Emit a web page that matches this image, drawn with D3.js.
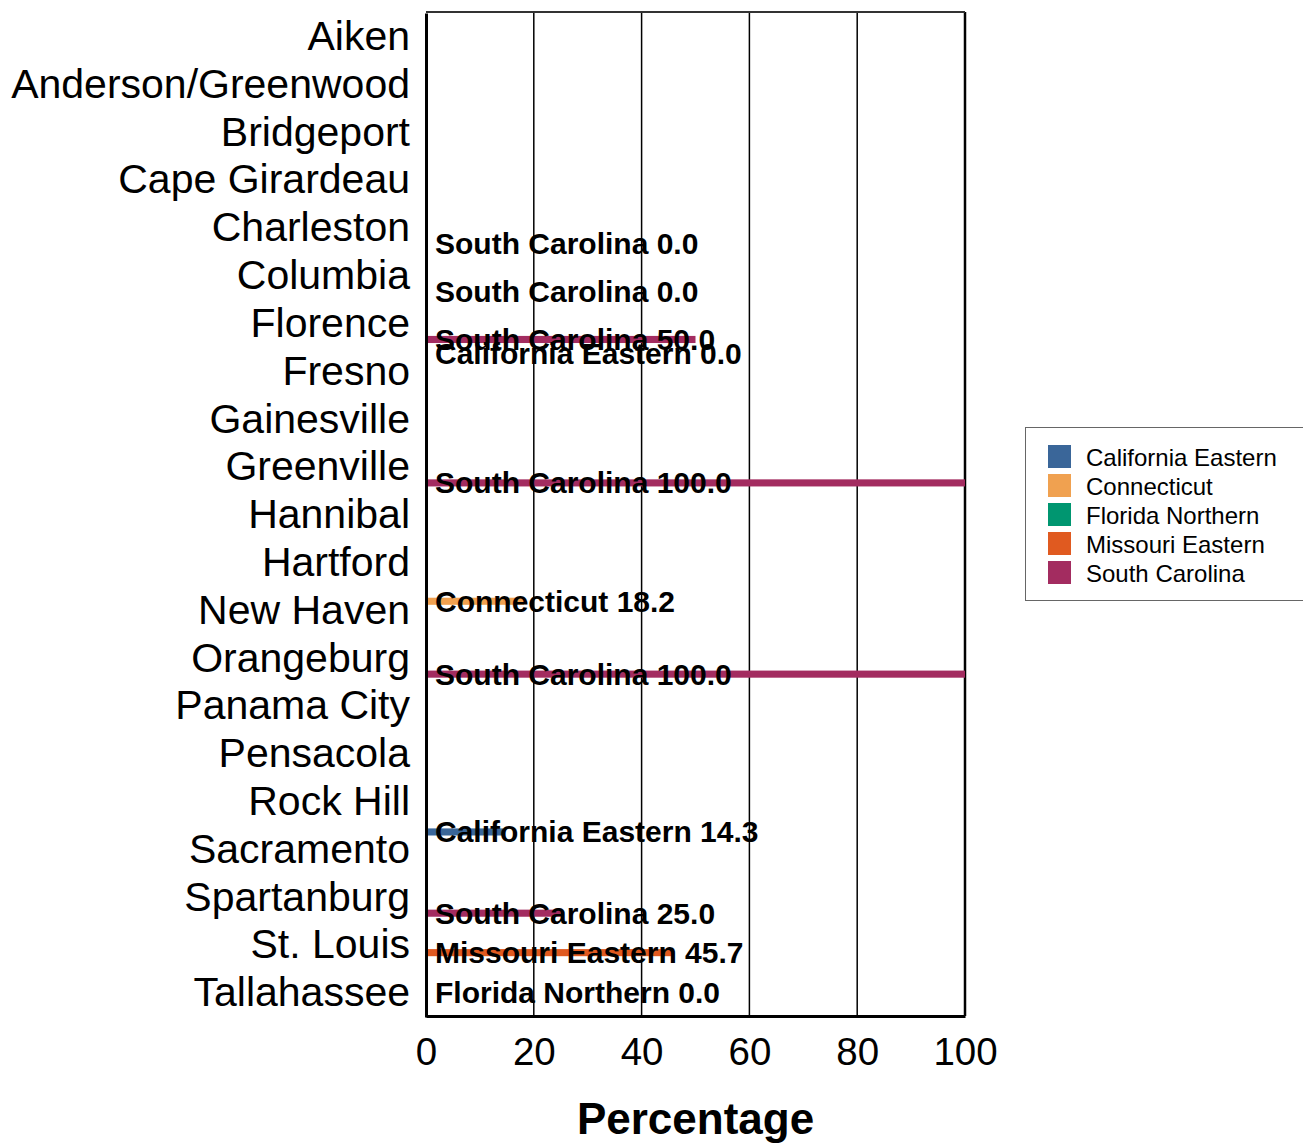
<!DOCTYPE html>
<html><head><meta charset="utf-8">
<script src="https://cdn.jsdelivr.net/npm/d3@7"></script>
<style>body{margin:0;background:#fff}svg{display:block}text{font-family:"Liberation Sans",Arial,sans-serif}</style>
</head><body>
<svg id="c" width="1303" height="1144"></svg>
<script>
const cities = ["Aiken","Anderson/Greenwood","Bridgeport","Cape Girardeau","Charleston","Columbia","Florence","Fresno","Gainesville","Greenville","Hannibal","Hartford","New Haven","Orangeburg","Panama City","Pensacola","Rock Hill","Sacramento","Spartanburg","St. Louis","Tallahassee"];
const seriesNames = ["California Eastern","Connecticut","Florida Northern","Missouri Eastern","South Carolina"];
const seriesColors = ["#3a6699","#f0a150","#009670","#e05a20","#a32c60"];
const recordCity = ["Charleston","Columbia","Florence","Fresno","Greenville","New Haven","Orangeburg","Sacramento","Spartanburg","St. Louis","Tallahassee"];
const recordSeries = ["South Carolina","South Carolina","South Carolina","California Eastern","South Carolina","Connecticut","South Carolina","California Eastern","South Carolina","Missouri Eastern","Florida Northern"];
const recordValue = [0.0,0.0,50.0,0.0,100.0,18.2,100.0,14.3,25.0,45.7,0.0];
const xTicks = [0,20,40,60,80,100];

const records = recordCity.map((c,i)=>({city:c, series:recordSeries[i], value:recordValue[i]}));
const svg = d3.select("#c");
const L=426, R=965, T=12, B=1016;
const x = d3.scaleLinear().domain([0,100]).range([L,R]);
const y0 = d3.scaleBand().domain(cities).range([T,B]).paddingInner(0.1).paddingOuter(0.05);
const y1 = d3.scaleBand().domain(seriesNames).range([0,y0.bandwidth()]).padding(0.15);
const color = d3.scaleOrdinal().domain(seriesNames).range(seriesColors);

// grid
svg.append("g").selectAll("line").data(xTicks.slice(1)).join("line")
  .attr("x1",d=>x(d)).attr("x2",d=>x(d)).attr("y1",T).attr("y2",B)
  .attr("stroke","#000").attr("stroke-width",d=>d===100?2.5:1.5);
svg.append("line").attr("x1",L).attr("x2",R).attr("y1",T).attr("y2",T).attr("stroke","#333").attr("stroke-width",2);

// bars
svg.append("g").selectAll("rect").data(records).join("rect")
  .attr("x",x(0))
  .attr("y",d=>y0(d.city)+y1(d.series))
  .attr("width",d=>x(d.value)-x(0))
  .attr("height",y1.bandwidth())
  .attr("fill",d=>color(d.series));

// labels
svg.append("g").selectAll("text").data(records).join("text")
  .attr("x",x(0)+9)
  .attr("y",d=>y0(d.city)+y1(d.series)+y1.bandwidth()/2)
  .attr("dominant-baseline","central")
  .attr("font-size",30).attr("font-weight","bold").attr("fill","#000")
  .text(d=>d.series+" "+d.value.toFixed(1));

// y axis
const yAxis = svg.append("g").attr("transform",`translate(${L},1)`)
  .call(d3.axisLeft(d3.scaleBand().domain(cities).range([T,B])).tickSize(0).tickPadding(16));
yAxis.select(".domain").attr("stroke","#000").attr("stroke-width",3);
yAxis.selectAll("text").attr("font-size",41).attr("fill","#000").attr("font-family","Liberation Sans, Arial, sans-serif");

// x axis
const xAxis = svg.append("g").attr("transform",`translate(0,${B})`)
  .call(d3.axisBottom(x).tickValues(xTicks).tickSize(0).tickPadding(22).tickFormat(d3.format("d")));
xAxis.select(".domain").attr("stroke","#000").attr("stroke-width",3);
xAxis.selectAll("text").attr("font-size",38.5).attr("fill","#000").attr("font-family","Liberation Sans, Arial, sans-serif");

svg.append("text").attr("x",(L+R)/2).attr("y",1134).attr("text-anchor","middle")
  .attr("font-size",44).attr("font-weight","bold").text("Percentage");

// legend
const lg = svg.append("g");
lg.append("rect").attr("x",1025.5).attr("y",427.5).attr("width",290).attr("height",173)
  .attr("fill","#fff").attr("stroke","#666").attr("stroke-width",1);
const items = lg.selectAll("g.it").data(seriesNames).join("g").attr("class","it")
  .attr("transform",(d,i)=>`translate(1048,${445+i*29})`);
items.append("rect").attr("width",23).attr("height",23).attr("fill",d=>color(d));
items.append("text").attr("x",38).attr("y",12).attr("dominant-baseline","central")
  .attr("font-size",24).attr("fill","#000").text(d=>d);
</script>
</body></html>
